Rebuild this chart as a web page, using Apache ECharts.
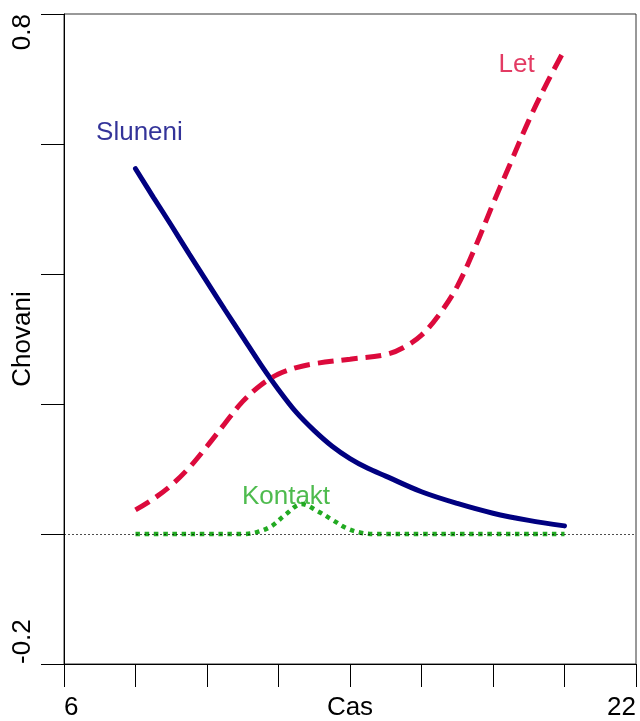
<!DOCTYPE html>
<html>
<head>
<meta charset="utf-8">
<script src="https://cdn.jsdelivr.net/npm/echarts@6/dist/echarts.min.js"></script>
<style>
  html, body { margin: 0; padding: 0; background: #ffffff; }
  #chart { width: 640px; height: 721px; }
</style>
</head>
<body>
<div id="chart"></div>
<script>
// Behaviour shares through the day (Cas = hour)
const slunHours = [8, 8.5, 9, 9.5, 10, 10.5, 11, 11.5, 12, 12.5, 13, 13.5, 14, 14.5, 15, 16, 17, 18, 19, 20];
const sluneni = [0.562, 0.518, 0.475, 0.431, 0.388, 0.345, 0.303, 0.261, 0.222, 0.187, 0.159, 0.135, 0.116, 0.101, 0.089, 0.065, 0.047, 0.032, 0.021, 0.0125];

const letHours = [8, 8.5, 9, 9.5, 10, 10.5, 11, 11.5, 12, 12.5, 13, 14, 15, 15.5, 16, 16.5, 17, 17.5, 18, 18.5, 19, 19.5, 20];
const letVals = [0.037, 0.054, 0.075, 0.102, 0.135, 0.17, 0.204, 0.229, 0.246, 0.256, 0.262, 0.269, 0.276, 0.287, 0.306, 0.338, 0.381, 0.441, 0.508, 0.572, 0.636, 0.693, 0.745];

const kontaktHours = [8, 9, 10, 11, 11.4, 11.8, 12.2, 12.65, 13.1, 13.5, 13.9, 14.3, 14.7, 15, 16, 17, 18, 19, 20];
const kontaktVals = [0, 0, 0, 0, 0.003, 0.012, 0.03, 0.046, 0.035, 0.022, 0.009, 0.002, 0, 0, 0, 0, 0, 0, 0];

const xTickLabels = [6, 22];
const yTickLabels = [-0.2, 0.8];

// series names written beside their curves (data coordinates)
const seriesNames = ['Sluneni', 'Let', 'Kontakt'];
const nameX = [8.11, 18.66, 12.21];
const nameY = [0.617, 0.722, 0.057];

const colors = ['#000080', '#DC0A3C', '#22AA22'];
const FONT = "'Liberation Sans', Arial, Helvetica, sans-serif";
const FS = 26;

const zip = (xs, ys) => xs.map((x, i) => [x, ys[i]]);

const chart = echarts.init(document.getElementById('chart'), null, { renderer: 'canvas' });

const nameSeries = seriesNames.map((n, i) => ({
  type: 'scatter',
  silent: true,
  symbolSize: 0,
  data: [[nameX[i], nameY[i]]],
  label: {
    show: true,
    position: 'inside',
    formatter: n,
    color: colors[i],
    fontSize: FS,
    fontFamily: FONT
  },
  z: 5
}));

const curve = (name, xs, ys, color, width, type, z) => ({
  name: name,
  type: 'line',
  data: zip(xs, ys),
  smooth: 0.35,
  showSymbol: false,
  symbol: 'none',
  lineStyle: { color: color, width: width, type: type, cap: type === 'solid' ? 'round' : 'butt' },
  z: z
});

const kontakt = curve('Kontakt', kontaktHours, kontaktVals, colors[2], 4.5, [4.5, 4.7], 4);
kontakt.markLine = {
  silent: true,
  symbol: 'none',
  label: { show: false },
  lineStyle: { color: '#000', width: 0.7, type: [2, 2] },
  data: [{ yAxis: 0 }]
};

chart.setOption({
  animation: false,
  backgroundColor: '#ffffff',
  textStyle: { fontFamily: FONT },
  grid: {
    left: 64, top: 14, right: 4, bottom: 57,
    containLabel: false,
    outerBoundsMode: 'none',
    show: true,
    borderColor: '#333333',
    borderWidth: 1,
    backgroundColor: 'transparent'
  },
  xAxis: {
    type: 'value',
    min: 6, max: 22, interval: 2,
    name: 'Cas',
    nameLocation: 'middle',
    nameGap: 31,
    nameMoveOverlap: false,
    nameTextStyle: { fontSize: FS, color: '#000', fontFamily: FONT, verticalAlign: 'top' },
    axisLine: { show: true, onZero: false, lineStyle: { color: '#000', width: 1 } },
    axisTick: { show: true, inside: false, length: 23, lineStyle: { color: '#000', width: 1 } },
    axisLabel: {
      show: true,
      customValues: xTickLabels,
      alignMinLabel: 'left',
      alignMaxLabel: 'right',
      margin: 31,
      fontSize: FS,
      color: '#000',
      fontFamily: FONT,
      formatter: v => String(v)
    },
    splitLine: { show: false }
  },
  yAxis: {
    type: 'value',
    min: -0.2, max: 0.8, interval: 0.2,
    name: 'Chovani',
    nameLocation: 'middle',
    nameGap: 28,
    nameRotate: 90,
    nameMoveOverlap: false,
    nameTextStyle: { fontSize: FS, color: '#000', fontFamily: FONT },
    axisLine: { show: true, onZero: false, lineStyle: { color: '#000', width: 1 } },
    axisTick: { show: true, inside: false, length: 23, lineStyle: { color: '#000', width: 1 } },
    axisLabel: {
      show: true,
      customValues: yTickLabels,
      rotate: 90,
      alignMinLabel: 'left',
      alignMaxLabel: 'right',
      margin: 28,
      fontSize: FS,
      color: '#000',
      fontFamily: FONT,
      formatter: v => String(Math.round(v * 10) / 10)
    },
    splitLine: { show: false }
  },
  series: [
    curve('Sluneni', slunHours, sluneni, colors[0], 5, 'solid', 2),
    curve('Let', letHours, letVals, colors[1], 5, [16, 8], 3),
    kontakt,
    ...nameSeries
  ]
});
</script>
</body>
</html>
